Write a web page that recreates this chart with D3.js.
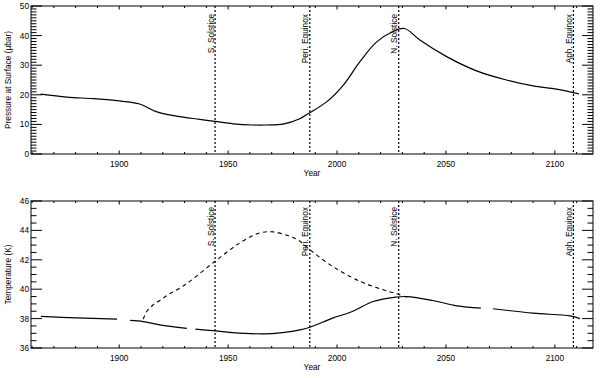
<!DOCTYPE html>
<html>
<head>
<meta charset="utf-8">
<script src="https://cdn.jsdelivr.net/npm/d3@7"></script>
<style>
  body { margin: 0; background: #fff; }
  text { font-family: "Liberation Sans", Arial, sans-serif; font-size: 8.3px; fill: #000; }
</style>
</head>
<body>
<div class="canva"></div>
<script>
// pressure at surface (top panel)
var pYears = [1864, 1876, 1888, 1899, 1909.4, 1917, 1926.3, 1937, 1944, 1952.3, 1961.4, 1967.6, 1975.2, 1982.9, 1986.7, 1995.2, 2002.8, 2010.4, 2018.1, 2025.7, 2031, 2038, 2050.3, 2064, 2077.8, 2090, 2100.8, 2111];
var pValues = [20.2, 19.2, 18.7, 18.0, 16.9, 14.3, 12.8, 11.7, 11.0, 10.2, 9.8, 9.8, 10.1, 11.9, 13.6, 17.6, 23.2, 31.1, 37.8, 41.4, 42.4, 38.5, 32.9, 28.1, 25.0, 23.0, 21.9, 20.3];

// temperature, solid (null = gap in data)
var tYears = [1864, 1880, 1899, null, 1905, 1911, 1918.6, 1931, null, 1935, 1943, 1952, 1966, 1975, 1983, 1987.5, 1998, 2007, 2016.6, 2027, 2032, 2044, 2055, 2066, null, 2071.5, 2090, 2107, 2111.5];
var tValues = [38.15, 38.05, 37.96, null, 37.88, 37.8, 37.57, 37.34, null, 37.28, 37.18, 37.05, 36.96, 37.05, 37.23, 37.41, 38.03, 38.48, 39.16, 39.46, 39.5, 39.23, 38.87, 38.71, null, 38.67, 38.37, 38.18, 38.0];

// temperature, dashed
var dYears = [1911, 1912.6, 1915.6, 1918.6, 1922.4, 1927.8, 1932.4, 1944, 1955.4, 1964.6, 1970.6, 1978.3, 1983, 1987.5, 1998, 2010.6, 2021.3, 2027.3, 2032];
var dValues = [37.96, 38.48, 38.94, 39.23, 39.62, 40.07, 40.53, 41.9, 43.15, 43.83, 43.9, 43.6, 43.26, 42.69, 41.55, 40.53, 39.96, 39.69, 39.46];

// seasons
var seasonYears = [1944, 1987.5, 2028.3, 2108.5];
var seasonNames = ["S. Solstice", "Peri. Equinox", "N. Solstice", "Aph. Equinox"];

var xTicks = [1900, 1950, 2000, 2050, 2100];

var width = 600, height = 378;
var left = 31, right = 593;

var svg = d3.select(".canva").append("svg")
  .attr("width", width).attr("height", height);

var x = d3.scaleLinear().domain([1859.5, 2117.5]).range([left, right]);

function panel(top, bottom, yDomain, yMajor, yMinor, yTitle, labelY) {
  var y = d3.scaleLinear().domain(yDomain).range([bottom, top]);
  var g = svg.append("g");
  var h = bottom - top;

  // box
  g.append("rect").attr("x", left).attr("y", top)
    .attr("width", right - left).attr("height", h)
    .attr("fill", "none").attr("stroke", "#000").attr("stroke-width", 1);

  // y ticks (left + right, inward)
  var yMinorTicks = d3.range(yDomain[0], yDomain[1] + 1e-9, yMinor);
  yMinorTicks.forEach(function(v) {
    var major = Math.abs(v / yMajor - Math.round(v / yMajor)) < 1e-6;
    var len = major ? 11 : 5.5;
    g.append("line").attr("x1", left).attr("x2", left + len)
      .attr("y1", y(v)).attr("y2", y(v)).attr("stroke", "#000");
    g.append("line").attr("x1", right).attr("x2", right - len)
      .attr("y1", y(v)).attr("y2", y(v)).attr("stroke", "#000");
    if (major) {
      g.append("text").attr("x", left - 2).attr("y", y(v)).attr("dy", "0.35em")
        .attr("text-anchor", "end").text(v);
    }
  });

  // x ticks (bottom + top)
  d3.range(1860, 2117, 10).forEach(function(v) {
    var len = v % 50 == 0 ? 3.5 : 2;
    g.append("line").attr("x1", x(v)).attr("x2", x(v))
      .attr("y1", bottom).attr("y2", bottom - len).attr("stroke", "#000");
    g.append("line").attr("x1", x(v)).attr("x2", x(v))
      .attr("y1", top).attr("y2", top + len).attr("stroke", "#000");
  });
  xTicks.forEach(function(v) {
    g.append("text").attr("x", x(v)).attr("y", bottom + 12.5)
      .attr("text-anchor", "middle").text(v);
  });

  g.append("text").attr("x", (left + right) / 2).attr("y", bottom + 22)
    .attr("text-anchor", "middle").text("Year");

  g.append("text")
    .attr("transform", "translate(11," + ((top + bottom) / 2) + ") rotate(-90)")
    .attr("text-anchor", "middle").text(yTitle);

  // season lines
  seasonYears.forEach(function(s, i) {
    g.append("line").attr("x1", x(s)).attr("x2", x(s))
      .attr("y1", top).attr("y2", bottom)
      .attr("stroke", "#000").attr("stroke-width", 1.2)
      .attr("stroke-dasharray", "2,2");
    g.append("text")
      .attr("transform", "translate(" + (x(s) - 1.5) + "," + labelY + ") rotate(-90)")
      .attr("text-anchor", "end").text(seasonNames[i]);
  });
  return {g: g, y: y};
}

var p1 = panel(6, 154, [0, 50], 10, 1, "Pressure at Surface (\u03bcbar)", 14);
var p2 = panel(201, 348, [36, 46], 2, 0.5, "Temperature (K)", 207);

var pData = pYears.map(function(d, i) { return {x: d, v: pValues[i]}; });
var tData = tYears.map(function(d, i) { return {x: d, v: tValues[i]}; });
var dData = dYears.map(function(d, i) { return {x: d, v: dValues[i]}; });

function mkLine(y) {
  return d3.line()
    .defined(function(d) { return d.v != null; })
    .x(function(d) { return x(d.x); })
    .y(function(d) { return y(d.v); })
    .curve(d3.curveCatmullRom.alpha(0.5));
}

p1.g.append("path").attr("d", mkLine(p1.y)(pData))
  .attr("fill", "none").attr("stroke", "#000").attr("stroke-width", 1.2);

p2.g.append("path").attr("d", mkLine(p2.y)(tData))
  .attr("fill", "none").attr("stroke", "#000").attr("stroke-width", 1.2);

p2.g.append("path").attr("d", mkLine(p2.y)(dData))
  .attr("fill", "none").attr("stroke", "#000").attr("stroke-width", 1.1)
  .attr("stroke-dasharray", "4,3.5");
</script>
</body>
</html>
